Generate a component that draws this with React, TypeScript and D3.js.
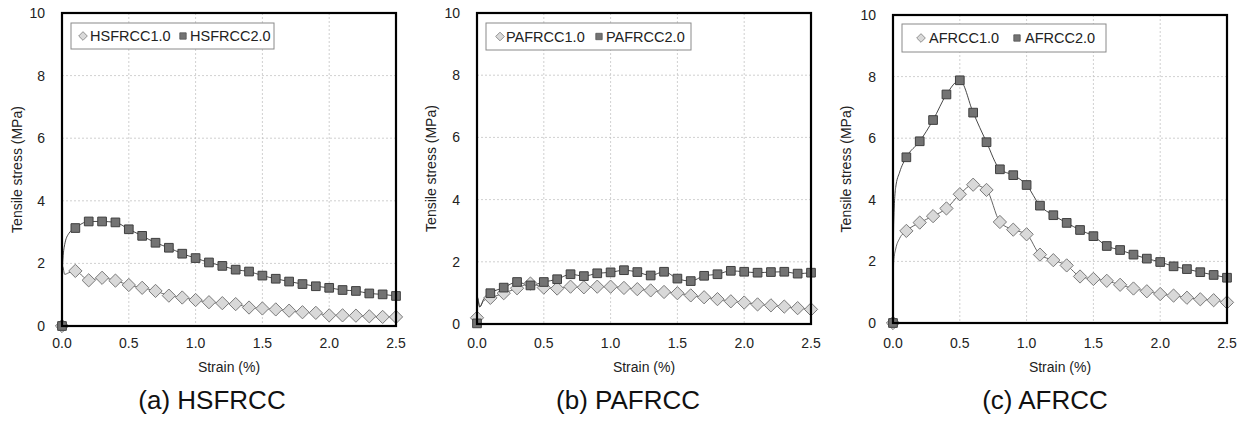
import * as d3 from "d3";
import { useEffect, useRef } from "react";

// strain (%) at each marker
const strain = [0, 0.1, 0.2, 0.3, 0.4, 0.5, 0.6, 0.7, 0.8, 0.9, 1.0, 1.1, 1.2, 1.3, 1.4, 1.5, 1.6, 1.7, 1.8, 1.9, 2.0, 2.1, 2.2, 2.3, 2.4, 2.5];
// strain points of the thin curve before the first marker
const leadStrain = [0, 0.005, 0.02, 0.05];

// (a) HSFRCC
const hs10 = [0, 1.76, 1.46, 1.54, 1.45, 1.31, 1.22, 1.12, 0.97, 0.91, 0.83, 0.76, 0.73, 0.70, 0.59, 0.56, 0.53, 0.49, 0.44, 0.42, 0.34, 0.34, 0.33, 0.31, 0.29, 0.29];
const hs20 = [0, 3.13, 3.34, 3.34, 3.31, 3.09, 2.88, 2.66, 2.50, 2.31, 2.17, 2.03, 1.92, 1.80, 1.74, 1.61, 1.51, 1.42, 1.34, 1.27, 1.22, 1.15, 1.12, 1.04, 1.01, 0.96];
const hs10Lead = [0, 1.9, 1.65, 1.7];
const hs20Lead = [0, 2.0, 2.6, 2.95];

// (b) PAFRCC
const pa10 = [0.2, 0.84, 0.99, 1.15, 1.30, 1.17, 1.14, 1.20, 1.18, 1.20, 1.20, 1.16, 1.12, 1.08, 1.03, 0.99, 0.92, 0.86, 0.80, 0.73, 0.69, 0.63, 0.60, 0.56, 0.51, 0.47];
const pa20 = [0.02, 0.99, 1.17, 1.35, 1.24, 1.35, 1.44, 1.60, 1.54, 1.63, 1.66, 1.73, 1.67, 1.56, 1.68, 1.46, 1.38, 1.55, 1.60, 1.71, 1.68, 1.65, 1.67, 1.68, 1.62, 1.65];
const pa10Lead = [0.2, 0.85, 0.55, 0.75];
const pa20Lead = [0.02, 0.8, 0.55, 0.8];

// (c) AFRCC
const af10 = [0, 2.99, 3.26, 3.47, 3.72, 4.18, 4.49, 4.32, 3.28, 3.03, 2.88, 2.22, 2.04, 1.87, 1.51, 1.43, 1.37, 1.24, 1.12, 1.03, 0.94, 0.89, 0.82, 0.77, 0.74, 0.67];
const af20 = [0, 5.38, 5.90, 6.59, 7.42, 7.88, 6.83, 5.87, 4.99, 4.80, 4.48, 3.81, 3.50, 3.25, 3.02, 2.82, 2.50, 2.37, 2.22, 2.09, 1.98, 1.84, 1.75, 1.65, 1.56, 1.47];
const af10Lead = [0, 2.0, 2.4, 2.75];
const af20Lead = [0, 3.2, 4.4, 4.9];

const xTicks = [0, 0.5, 1.0, 1.5, 2.0, 2.5];
const yTicks = [0, 2, 4, 6, 8, 10];

const panels = [
    { id: "a", caption: "(a) HSFRCC", names: ["HSFRCC1.0", "HSFRCC2.0"], s1: hs10, s2: hs20, l1: hs10Lead, l2: hs20Lead,
      box: { l: 62, r: 396, t: 13, b: 326 }, leg: { x: 71, y: 23, w: 203, h: 26, m1: 12, t1: 19, m2: 112, t2: 119 }, ylab: 17, cap: 212 },
    { id: "b", caption: "(b) PAFRCC", names: ["PAFRCC1.0", "PAFRCC2.0"], s1: pa10, s2: pa20, l1: pa10Lead, l2: pa20Lead,
      box: { l: 477, r: 811, t: 13, b: 324 }, leg: { x: 486, y: 23, w: 205, h: 27, m1: 14, t1: 20, m2: 113, t2: 120 }, ylab: 431, cap: 628 },
    { id: "c", caption: "(c) AFRCC", names: ["AFRCC1.0", "AFRCC2.0"], s1: af10, s2: af20, l1: af10Lead, l2: af20Lead,
      box: { l: 893, r: 1227, t: 15, b: 323 }, leg: { x: 902, y: 24, w: 204, h: 28, m1: 19, t1: 27, m2: 115, t2: 123 }, ylab: 846, cap: 1045 },
];

const FONT = "'Liberation Sans', Arial, sans-serif";
const W = 1244, H = 421;

export default function App() {
    const ref = useRef<SVGSVGElement>(null);

    useEffect(() => {
        const svg = d3.select(ref.current);
        svg.selectAll("*").remove();
        svg.append("rect").attr("width", W).attr("height", H).attr("fill", "white");

        const diamond = d3.symbol().type(d3.symbolDiamond2);
        const square = d3.symbol().type(d3.symbolSquare2);

        panels.forEach(p => {
            const x = d3.scaleLinear().domain([0, 2.5]).range([p.box.l, p.box.r]);
            const y = d3.scaleLinear().domain([0, 10]).range([p.box.b, p.box.t]);
            const g = svg.append("g").attr("class", "panel-" + p.id);

            // grid
            g.selectAll(".gx").data(xTicks.slice(1, -1)).enter().append("line")
                .attr("x1", d => x(d)).attr("x2", d => x(d))
                .attr("y1", p.box.t).attr("y2", p.box.b)
                .attr("stroke", "#c4c4c4").attr("stroke-width", 0.8).attr("stroke-dasharray", "2,2");
            g.selectAll(".gy").data(yTicks.slice(1, -1)).enter().append("line")
                .attr("x1", p.box.l).attr("x2", p.box.r)
                .attr("y1", d => y(d)).attr("y2", d => y(d))
                .attr("stroke", "#c4c4c4").attr("stroke-width", 0.8).attr("stroke-dasharray", "2,2");

            // tick labels
            g.selectAll(".ty").data(yTicks).enter().append("text")
                .attr("x", p.box.l - 17).attr("y", d => y(d)).attr("dy", "0.35em")
                .attr("text-anchor", "end").style("font", "14px " + FONT).attr("fill", "#222")
                .text(d => d);
            g.selectAll(".tx").data(xTicks).enter().append("text")
                .attr("x", d => x(d)).attr("y", 348)
                .attr("text-anchor", "middle").style("font", "14px " + FONT).attr("fill", "#222")
                .text(d => d.toFixed(1));

            g.append("text")
                .attr("transform", "translate(" + p.ylab + "," + ((p.box.t + p.box.b) / 2) + ")rotate(-90)")
                .attr("dy", "0.35em").attr("text-anchor", "middle")
                .style("font", "14px " + FONT).attr("fill", "#222")
                .text("Tensile stress (MPa)");
            g.append("text")
                .attr("x", (p.box.l + p.box.r) / 2).attr("y", 372).attr("text-anchor", "middle")
                .style("font", "14px " + FONT).attr("fill", "#222")
                .text("Strain (%)");
            g.append("text")
                .attr("x", p.cap).attr("y", 409).attr("text-anchor", "middle")
                .style("font", "26px " + FONT).attr("fill", "#111")
                .text(p.caption);

            // curves
            const line = d3.line<number[]>().x(d => x(d[0])).y(d => y(d[1])).curve(d3.curveMonotoneX);
            const pts = (lead: number[], s: number[]) =>
                leadStrain.map((v, i) => [v, lead[i]]).concat(strain.slice(1).map((v, i) => [v, s[i + 1]]));
            g.append("path").attr("d", line(pts(p.l1, p.s1))).attr("fill", "none").attr("stroke", "#555").attr("stroke-width", 0.9);
            g.append("path").attr("d", line(pts(p.l2, p.s2))).attr("fill", "none").attr("stroke", "#333").attr("stroke-width", 0.9);

            g.selectAll(".m1").data(p.s1).enter().append("path")
                .attr("d", diamond.size(112)())
                .attr("transform", (d, i) => "translate(" + x(strain[i]) + "," + y(d) + ")")
                .attr("fill", "#d9d9d9").attr("stroke", "#7a7a7a").attr("stroke-width", 1);
            g.selectAll(".m2").data(p.s2).enter().append("path")
                .attr("d", square.size(96)())
                .attr("transform", (d, i) => "translate(" + x(strain[i]) + "," + y(d) + ")")
                .attr("fill", "#737373").attr("stroke", "#3f3f3f").attr("stroke-width", 1);

            // frame
            g.append("rect").attr("x", p.box.l).attr("y", p.box.t)
                .attr("width", p.box.r - p.box.l).attr("height", p.box.b - p.box.t)
                .attr("fill", "none").attr("stroke", "black").attr("stroke-width", 2.2);

            // legend
            const L = p.leg;
            const cy = L.y + L.h / 2;
            g.append("rect").attr("x", L.x).attr("y", L.y).attr("width", L.w).attr("height", L.h)
                .attr("fill", "white").attr("stroke", "#8a8a8a").attr("stroke-width", 1);
            g.append("path").attr("d", diamond.size(48)()).attr("transform", "translate(" + (L.x + L.m1) + "," + cy + ")")
                .attr("fill", "#d9d9d9").attr("stroke", "#7a7a7a").attr("stroke-width", 0.8);
            g.append("path").attr("d", square.size(52)()).attr("transform", "translate(" + (L.x + L.m2) + "," + cy + ")")
                .attr("fill", "#737373").attr("stroke", "#555").attr("stroke-width", 0.8);
            g.append("text").attr("x", L.x + L.t1).attr("y", cy).attr("dy", "0.36em")
                .style("font", "14.5px " + FONT).attr("fill", "#222").text(p.names[0]);
            g.append("text").attr("x", L.x + L.t2).attr("y", cy).attr("dy", "0.36em")
                .style("font", "14.5px " + FONT).attr("fill", "#222").text(p.names[1]);
        });
    }, []);

    return (
        <svg ref={ref} width={W} height={H} style={{ position: "absolute", left: 0, top: 0, display: "block" }} />
    );
}
